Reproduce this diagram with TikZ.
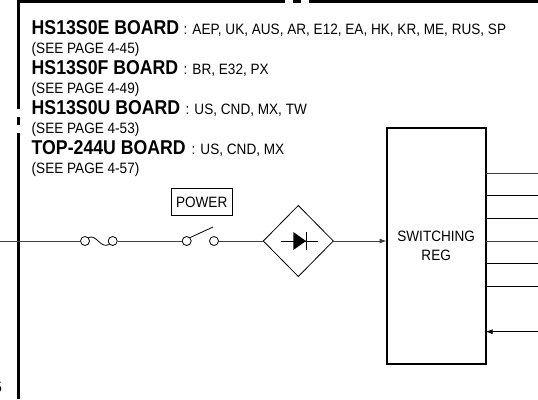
\documentclass[tikz,border=0pt]{standalone}
\usepackage{fontspec}
\setmainfont{Liberation Sans}
\newfontfamily\regf[FakeStretch=0.905]{Liberation Sans}
\newfontfamily\boldf[FakeStretch=0.885]{Liberation Sans Bold}
\usetikzlibrary{arrows.meta}
\tikzset{
 x=1pt,y=-1pt,
 frame/.style={line width=3pt,black},
 wire/.style={line width=1pt,black!75},
 thin wire/.style={line width=0.8pt,black},
 board/.style={anchor=base west,inner sep=0pt,font=\boldf\fontsize{20}{22}\selectfont},
 info/.style={anchor=base west,inner sep=0pt,font=\regf\fontsize{15}{17}\selectfont},
 term/.style={circle,draw=black,line width=0.8pt,fill=white,minimum size=9pt,inner sep=0pt},
 lbl/.style={font=\regf\fontsize{15}{19}\selectfont,align=center,inner sep=0pt,outer sep=0pt},
 arr/.style={-{Latex[length=7pt,width=5pt]}},
}
\begin{document}
\begin{tikzpicture}
\useasboundingbox (0,0) rectangle (538,399);
\clip (0,0) rectangle (538,399);
% frame
\draw[frame] (18.5,109) -- (18.5,1.5) -- (285,1.5);
\draw[frame] (293,1.5) -- (301,1.5);
\draw[frame] (309,1.5) -- (538,1.5);
\draw[frame] (18.5,117) -- (18.5,125);
\draw[frame] (18.5,133) -- (18.5,399);
% texts
\node[board] (b1) at (31.5,34.5) {HS13S0E BOARD};
\node[info] (c1) at (183.5,34.5) {: AEP, UK, AUS, AR, E12, EA, HK, KR, ME, RUS, SP};
\node[info] (p1) at (31.5,53.5) {(SEE PAGE 4-45)};
\node[board] (b2) at (31.5,74.5) {HS13S0F BOARD};
\node[info] (c2) at (183.5,74.5) {: BR, E32, PX};
\node[info] (p2) at (31.5,93.5) {(SEE PAGE 4-49)};
\node[board] (b3) at (31.5,114.5) {HS13S0U BOARD};
\node[info] (c3) at (185.5,114.5) {: US, CND, MX, TW};
\node[info] (p3) at (31.5,133.5) {(SEE PAGE 4-53)};
\node[board] (b4) at (31.5,154.5) {TOP-244U BOARD};
\node[info] (c4) at (191.5,154.5) {: US, CND, MX};
\node[info] (p4) at (31.5,173.5) {(SEE PAGE 4-57)};
\node[info,anchor=base east] (pg) at (2,392) {5};
% power label
\node[lbl,draw=black,line width=0.8pt,minimum width=61pt,minimum height=27.5pt] (pw) at (201.7,202) {POWER};
% regulator
\node[lbl,draw=black,line width=2pt,minimum width=99pt,minimum height=235.5pt] (reg) at (436.2,245.8) {};
\node[lbl] (regt) at (436.2,245.5) {SWITCHING\\REG};
% symbols
\coordinate (in) at (0,241);
\node[term] (f1) at (85,241) {};
\node[term] (f2) at (112.7,241) {};
\node[term] (s1) at (186.7,241) {};
\node[term] (s2) at (214,241) {};
\coordinate (dl) at (263.3,241);
\coordinate (dr) at (333.3,241);
\coordinate (dt) at (298.3,205.5);
\coordinate (db) at (298.3,276.5);
\draw[wire] (in) -- (f1);
\draw[wire] (f2) -- (s1);
\draw[wire] (s2) -- (dl);
\draw[thin wire] (f1.north east) .. controls (97,234) and (100,249) .. (f2.south west);
\draw[thin wire] (s1.north east) -- (213,227);
\draw[thin wire] (dl) -- (dt) -- (dr) -- (db) -- cycle;
\draw[thin wire] (281,241) -- (317.7,241);
\fill (293.3,232) -- (306,241) -- (293.3,250) -- cycle;
\draw[thin wire] (306.7,232) -- (306.7,250);
\draw[wire,arr] (dr) -- (dr -| reg.west);
% outputs
\coordinate (o1) at (538,173);
\coordinate (o2) at (538,195.7);
\coordinate (o3) at (538,218);
\coordinate (o4) at (538,241);
\coordinate (o5) at (538,263);
\coordinate (o6) at (538,286);
\coordinate (o7) at (538,331.7);
\draw[wire] (o1) -- (o1 -| reg.east);
\draw[thin wire] (o2) -- (o2 -| reg.east);
\draw[thin wire] (o3) -- (o3 -| reg.east);
\draw[wire] (o4) -- (o4 -| reg.east);
\draw[thin wire] (o5) -- (o5 -| reg.east);
\draw[thin wire] (o6) -- (o6 -| reg.east);
\draw[thin wire,arr] (o7) -- (o7 -| reg.east);
\end{tikzpicture}
\end{document}
